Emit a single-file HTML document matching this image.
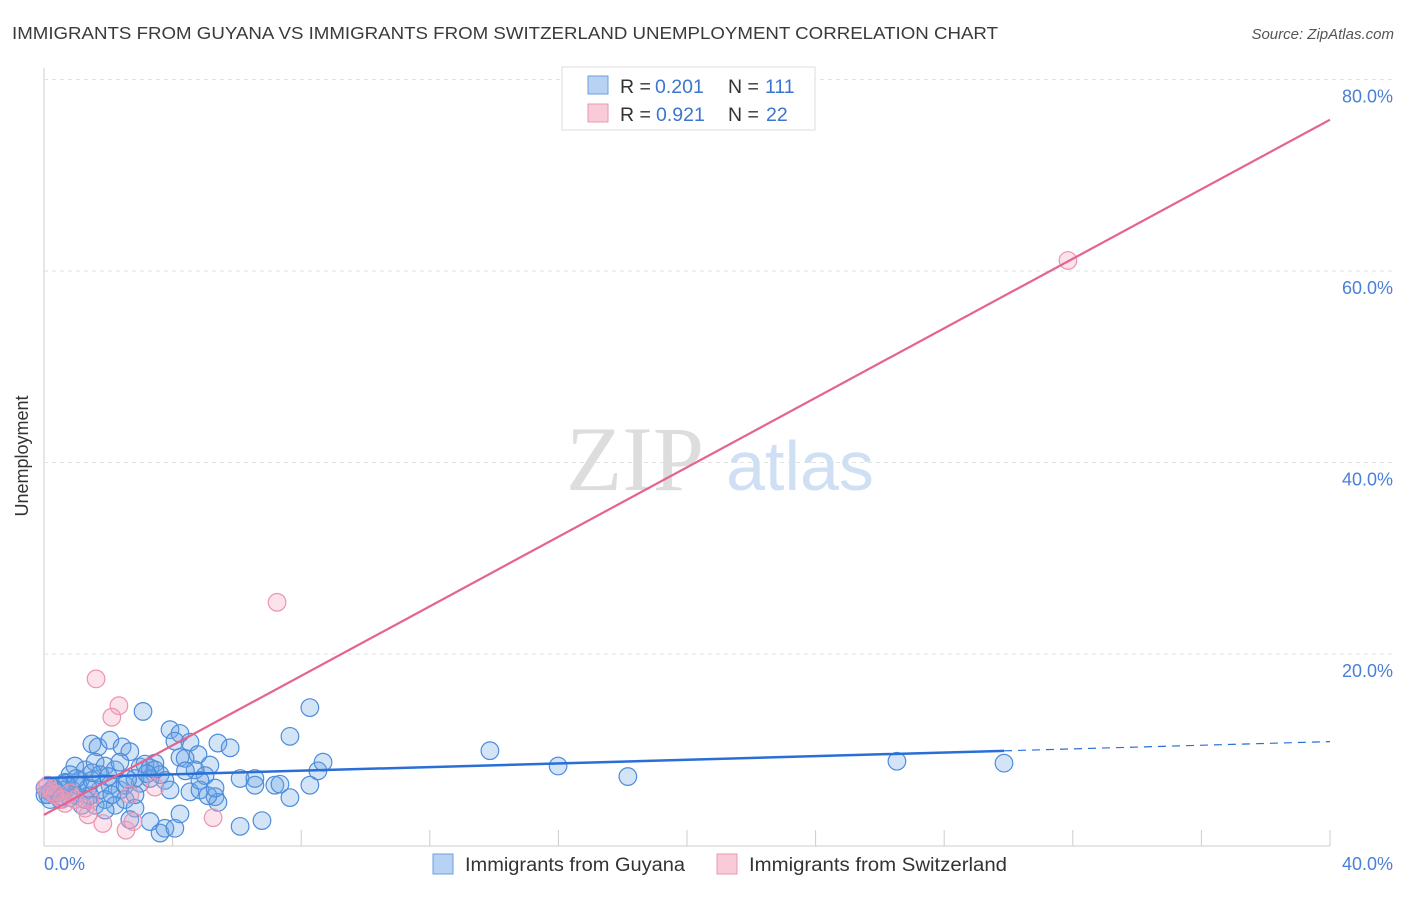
<!DOCTYPE html>
<html><head><meta charset="utf-8"><style>
body{margin:0;background:#fff;font-family:"Liberation Sans",sans-serif;}
</style></head><body>
<svg width="1406" height="892" xmlns="http://www.w3.org/2000/svg">
<text x="12" y="39" font-size="17.5" fill="#3a3a3a" textLength="986" lengthAdjust="spacingAndGlyphs">IMMIGRANTS FROM GUYANA VS IMMIGRANTS FROM SWITZERLAND UNEMPLOYMENT CORRELATION CHART</text>
<text x="1394" y="39" font-size="15" fill="#555" font-style="italic" text-anchor="end">Source: ZipAtlas.com</text>
<g id="grid"></g>
<text x="635" y="490" font-size="92" fill="#ddd" font-family="Liberation Serif,serif" text-anchor="middle">ZIP</text>
<text x="800" y="490" font-size="70" fill="#cfe0f5" text-anchor="middle">atlas</text>
<g id="pts"></g>
<g id="lines"></g>
<text x="28" y="456" font-size="18" fill="#333" transform="rotate(-90 28 456)" text-anchor="middle">Unemployment</text>
<text x="44" y="870" font-size="18" fill="#4a7fd6">0.0%</text>
<text x="1393" y="870" font-size="18" fill="#4a7fd6" text-anchor="end">40.0%</text>
<g>
<rect x="562" y="67" width="253" height="63" fill="#fff" stroke="#ddd"/>
<rect x="588" y="76" width="20" height="18" fill="#b7d2f3" stroke="#6d9fe0"/>
<rect x="588" y="104" width="20" height="18" fill="#f9cbd9" stroke="#ea98b2"/>
<text x="620" y="93" font-size="19.5" fill="#333">R =</text>
<text x="655" y="93" font-size="19.5" fill="#3a75d0">0.201</text>
<text x="728" y="93" font-size="19.5" fill="#333">N =</text>
<text x="765" y="93" font-size="19.5" fill="#3a75d0">111</text>
<text x="620" y="121" font-size="19.5" fill="#333">R =</text>
<text x="656" y="121" font-size="19.5" fill="#3a75d0">0.921</text>
<text x="728" y="121" font-size="19.5" fill="#333">N =</text>
<text x="766" y="121" font-size="19.5" fill="#3a75d0">22</text>
</g>
<g>
<rect x="433" y="854" width="20" height="20" fill="#b7d2f3" stroke="#6d9fe0"/>
<text x="465" y="871" font-size="19" fill="#333" textLength="220" lengthAdjust="spacingAndGlyphs">Immigrants from Guyana</text>
<rect x="717" y="854" width="20" height="20" fill="#f9cbd9" stroke="#ea98b2"/>
<text x="749" y="871" font-size="19" fill="#333" textLength="258" lengthAdjust="spacingAndGlyphs">Immigrants from Switzerland</text>
</g>
</svg>
<script>
const yTicks=[20,40,60,80];
const xTicks=[0,4,8,12,16,20,24,28,32,36,40];
const guyanaX=[3.08,3.92,4.23,4.07,4.54,4.79,5.16,5.41,5.79,1.49,1.68,2.05,2.43,2.67,0.96,1.28,1.59,1.90,2.21,2.36,2.99,3.14,3.30,3.45,3.61,3.76,4.23,4.39,4.70,5.01,2.99,2.36,2.05,1.74,1.43,1.12,0.81,0.65,0.50,0.34,0.19,0.12,0.50,0.96,1.28,1.59,1.90,2.21,2.52,2.83,1.90,2.67,3.30,3.61,3.76,4.07,4.23,4.54,4.85,5.32,5.41,6.10,6.56,6.56,7.18,7.34,7.65,8.27,8.27,7.65,8.52,8.68,6.10,6.78,3.92,4.85,13.87,15.99,18.16,26.53,29.86,0.03,0.19,0.34,0.65,0.81,1.37,1.74,2.11,2.52,2.83,3.30,3.45,0.03,0.44,0.56,0.87,1.06,1.18,1.49,2.83,5.10,5.32,0.3,0.7,1.0,1.5,2.0,2.6,3.2,4.4];
const guyanaY=[14.0,12.1,11.7,10.9,10.8,9.5,8.4,10.7,10.2,10.6,10.3,11.0,10.3,9.8,8.3,7.9,8.7,8.3,7.9,8.7,8.2,8.5,8.1,8.6,7.4,6.8,9.2,9.1,7.9,7.3,6.5,5.8,6.3,5.8,5.2,6.8,7.4,6.6,6.2,5.8,5.6,5.3,4.8,5.3,4.8,4.2,4.8,4.2,4.8,3.9,3.7,2.7,2.5,1.3,1.8,1.8,3.3,5.6,5.8,5.1,4.5,7.0,7.0,6.3,6.3,6.4,5.0,6.3,14.4,11.4,7.8,8.7,2.0,2.6,5.8,6.8,9.9,8.3,7.2,8.8,8.6,5.3,4.8,5.3,5.8,5.0,6.0,7.4,5.3,6.3,7.0,7.0,7.9,6.0,5.5,5.1,5.8,6.3,4.2,6.8,5.3,5.2,6.0,6.0,6.5,7.0,7.6,7.2,6.9,7.5,7.8];
const swissX=[31.85,7.25,1.62,2.33,2.11,0.12,0.34,0.56,0.81,1.28,1.43,1.83,2.55,2.77,3.45,5.26,2.67,0.96,0.65,0.25,1.37,0.05];
const swissY=[61.1,25.4,17.4,14.6,13.4,6.3,5.3,4.8,5.5,3.9,4.8,2.3,1.6,2.5,6.1,2.9,5.3,4.8,4.4,5.6,3.2,6.0];
const guyanaFit=[7.05,0.095]; // intercept, slope
const swissFit=[3.2,1.815];
const solidEnd=29.86;
const X=v=>44+v/40*1286, Y=v=>845.5-v*9.575;
const NS='http://www.w3.org/2000/svg';
function mk(tag,attrs,parent){const e=document.createElementNS(NS,tag);for(const k in attrs)e.setAttribute(k,attrs[k]);document.getElementById(parent).appendChild(e);return e;}
const ax=mk('line',{x1:44,y1:68,x2:44,y2:846,stroke:'#ccc'},'grid');


const bx=mk('line',{x1:44,y1:846,x2:1330,y2:846,stroke:'#ccc'},'grid');


yTicks.forEach(t=>{
const g=mk('line',{x1:44,y1:Y(t),x2:1392,y2:Y(t),stroke:'#e2e2e2','stroke-dasharray':'4,4'},'grid');


const l=mk('text',{x:1393,y:Y(t)+23,'font-size':18,fill:'#4a7fd6','text-anchor':'end'},'grid');
l.textContent=t.toFixed(1)+'%';


});
xTicks.forEach(t=>{
const m=mk('line',{x1:X(t),y1:830,x2:X(t),y2:846,stroke:'#ccc'},'grid');


});
guyanaX.forEach((v,i)=>{
const c=mk('circle',{cx:X(v),cy:Y(guyanaY[i]),r:8.8,fill:'rgba(110,165,230,0.3)',stroke:'#4d8ddc','stroke-width':1.2},'pts');


});
swissX.forEach((v,i)=>{
const c=mk('circle',{cx:X(v),cy:Y(swissY[i]),r:8.8,fill:'rgba(245,160,190,0.3)',stroke:'#eb94b0','stroke-width':1.2},'pts');


});
const f=(fit,x)=>fit[0]+fit[1]*x;
const l1=mk('line',{x1:X(0),y1:Y(f(guyanaFit,0)),x2:X(solidEnd),y2:Y(f(guyanaFit,solidEnd)),stroke:'#2a6fd6','stroke-width':2.5},'lines');


const l2=mk('line',{x1:X(solidEnd),y1:Y(f(guyanaFit,solidEnd)),x2:X(40),y2:Y(f(guyanaFit,40)),stroke:'#2a6fd6','stroke-width':1.2,'stroke-dasharray':'8,6'},'lines');


const l3=mk('line',{x1:X(0),y1:Y(f(swissFit,0)),x2:X(40),y2:Y(f(swissFit,40)),stroke:'#e4638f','stroke-width':2.2},'lines');


</script>
</body></html>
